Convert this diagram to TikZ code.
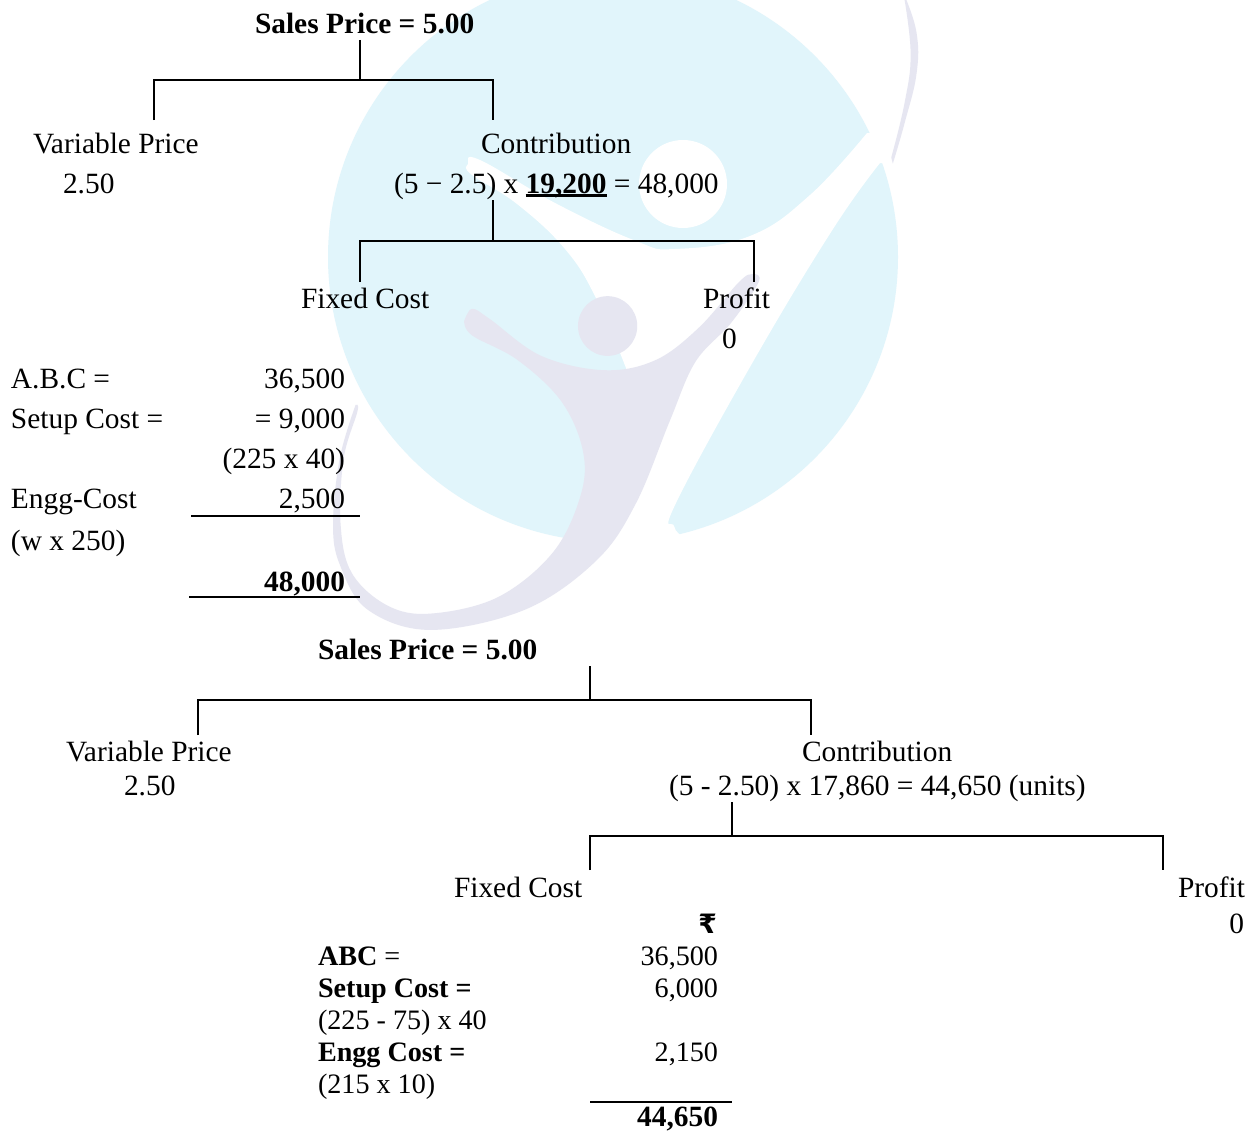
\documentclass[tikz,border=0pt]{standalone}
\usepackage{fontspec}
\setmainfont{Liberation Serif}
\newfontfamily\rupeefont{DejaVu Sans Bold}
\newcommand{\thickul}[1]{\setbox0\hbox{#1}\rlap{\rule[-2.9pt]{\wd0}{1.9pt}}\box0{}}
\definecolor{wmcyan}{HTML}{E1F5FB}
\definecolor{wmlav}{HTML}{E6E6F1}
\tikzset{
  txt/.style={inner sep=0pt,outer sep=0pt,anchor=base west,font=\fontsize{22.05}{26}\selectfont,text=black},
  txtr/.style={txt,anchor=base east},
  bold/.style={font=\fontsize{22.05}{26}\selectfont\bfseries},
  small/.style={font=\fontsize{21.1}{25}\selectfont},
  smallbold/.style={font=\fontsize{21.1}{25}\selectfont\bfseries},
  link/.style={draw=black,line width=1.5pt,line cap=butt,line join=miter},
  rulel/.style={draw=black,line width=1.5pt}
}
\begin{document}
\begin{tikzpicture}[x=0.75pt,y=-0.75pt]
\useasboundingbox (0,0) rectangle (1253,1131);
\fill[white] (0,0) rectangle (1253,1131);
% watermark
\begin{scope}
\clip (0,0) rectangle (1253,1131);
\fill[wmcyan] (613,257) circle[radius=285];
\fill[white] plot[smooth,tension=.7] coordinates {(867,133)(810,195)(750,236)(675,249)(636,241)(557,204)(480,160)(468,164)(472,175)(517,204)(565,249)(596,298)(626,368)}
 -- (645,450) -- (610,545) -- (600,620) -- (690,620) -- (682,536)
 -- plot[smooth,tension=.7] coordinates {(682,536)(674,526)(676,503)(754,360)(833,229)(880,163)}
 -- (950,163) -- (950,133) -- cycle;
\fill[white] (683,184) circle[radius=44];
\begin{scope}[x=0.2963pt,y=-0.3068pt,shift={(810,0)}]
% figure
\fill[wmlav] plot[smooth,tension=.6] coordinates {(365,785)(385,755)(430,780)(560,870)(720,905)(850,880)(960,800)(1060,690)(1095,670)(1110,690)(1040,790)(950,885)(885,1030)(800,1230)(700,1370)(520,1490)(280,1540)(120,1490)(50,1380)(33,1280)(50,1120)(90,990)}
 -- plot[smooth,tension=.6] coordinates {(90,990)(95,1005)(60,1120)(52,1280)(80,1400)(170,1480)(280,1500)(450,1460)(590,1350)(660,1210)(665,1100)(610,980)(500,880)(385,820)(365,785)} -- cycle;
\fill[wmlav] (728,797) ellipse (75 and 73);
% swoosh
\fill[wmlav] plot[smooth,tension=.7] coordinates {(1480,-10)(1510,80)(1510,180)(1480,300)(1450,400)} -- (1446,385)
 -- plot[smooth,tension=.7] coordinates {(1446,385)(1480,250)(1495,130)(1478,-10)} -- cycle;
\end{scope}
\end{scope}
% first tree text
\node[txt,bold] (s1) at (255,33.6) {Sales Price = 5.00};
\node[txt] (v1) at (33,153) {Variable Price};
\node[txt] (v1n) at (63,193) {2.50};
\node[txt] (c1) at (481,153) {Contribution};
\node[txt] (c1n) at (394,193) {(5 − 2.5) x \thickul{\textbf{19,200}} = 48,000};
\node[txt] (f1) at (301,308) {Fixed Cost};
\node[txt] (p1) at (703,308) {Profit};
\node[txt] (p1n) at (722,348) {0};
\node[txt] (a1) at (11,388) {A.B.C =};
\node[txtr] (a1n) at (345,388) {36,500};
\node[txt] (b1) at (11,428) {Setup Cost =};
\node[txtr] (b1n) at (345,428) {= 9,000};
\node[txtr] (b1f) at (345,468) {(225 x 40)};
\node[txt] (e1) at (11,508) {Engg-Cost};
\node[txtr] (e1n) at (345,508) {2,500};
\node[txt] (e1f) at (11,550) {(w x 250)};
\node[txtr,bold] (t1) at (345,591) {48,000};
% second tree text
\node[txt,bold] (s2) at (318,659) {Sales Price = 5.00};
\node[txt] (v2) at (66,761) {Variable Price};
\node[txt] (v2n) at (124,795) {2.50};
\node[txt] (c2) at (802,761) {Contribution};
\node[txt] (c2n) at (669,795) {(5 - 2.50) x 17,860 = 44,650 (units)};
\node[txt] (f2) at (454,897) {Fixed Cost};
\node[txt] (p2) at (1178,897) {Profit};
\node[txtr] (p2n) at (1244,933) {0};
\node[txtr] (r2) at (717,933) {\rupeefont\fontsize{20}{24}\selectfont ₹};
\node[txt,small] (a2) at (318,965) {\textbf{ABC} =};
\node[txtr,small] (a2n) at (718,965) {36,500};
\node[txt,smallbold] (b2) at (318,997) {Setup Cost =};
\node[txtr,small] (b2n) at (718,997) {6,000};
\node[txt,small] (b2f) at (318,1029) {(225 - 75) x 40};
\node[txt,smallbold] (e2) at (318,1061) {Engg Cost =};
\node[txtr,small] (e2n) at (718,1061) {2,150};
\node[txt,small] (e2f) at (318,1093) {(215 x 10)};
\node[txtr,bold] (t2) at (718,1126.5) {44,650};
% connector points
\coordinate (j1a) at (360,40); \coordinate (j1b) at (360,80);
\coordinate (j1l) at (154,80); \coordinate (j1r) at (493,80);
\coordinate (j1le) at (154,120); \coordinate (j1re) at (493,120);
\coordinate (j2a) at (493,200); \coordinate (j2b) at (493,241);
\coordinate (j2l) at (360,241); \coordinate (j2r) at (754,241);
\coordinate (j2le) at (360,282); \coordinate (j2re) at (754,282);
\coordinate (j3a) at (590,666); \coordinate (j3b) at (590,700);
\coordinate (j3l) at (198,700); \coordinate (j3r) at (811,700);
\coordinate (j3le) at (198,735); \coordinate (j3re) at (811,735);
\coordinate (j4a) at (732,802); \coordinate (j4b) at (732,836);
\coordinate (j4l) at (590,836); \coordinate (j4r) at (1163,836);
\coordinate (j4le) at (590,870); \coordinate (j4re) at (1163,870);
\coordinate (u1a) at (191,516); \coordinate (u1b) at (360,516);
\coordinate (u2a) at (189,597); \coordinate (u2b) at (360,597);
\coordinate (u3a) at (590,1102); \coordinate (u3b) at (732,1102);
\draw[link] (j1a) -- (j1b);
\draw[link] (j1le) -- (j1l) -- (j1r) -- (j1re);
\draw[link] (j2a) -- (j2b);
\draw[link] (j2le) -- (j2l) -- (j2r) -- (j2re);
\draw[link] (j3a) -- (j3b);
\draw[link] (j3le) -- (j3l) -- (j3r) -- (j3re);
\draw[link] (j4a) -- (j4b);
\draw[link] (j4le) -- (j4l) -- (j4r) -- (j4re);
\draw[rulel] (u1a) -- (u1b);
\draw[rulel] (u2a) -- (u2b);
\draw[rulel] (u3a) -- (u3b);
\end{tikzpicture}
\end{document}
